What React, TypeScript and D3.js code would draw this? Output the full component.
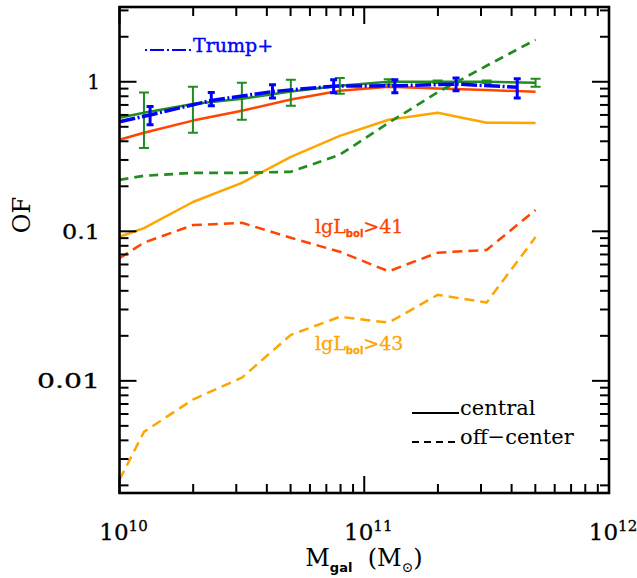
import React from "react";
import * as d3 from "d3";

// ---- data (log10 of galaxy mass, occupation fraction) ----
const massLog = [10.0, 10.1, 10.3, 10.5, 10.7, 10.9, 11.1, 11.3, 11.5, 11.7];
const greenCentral = [0.575, 0.62, 0.71, 0.77, 0.86, 0.94, 1.0, 1.0, 1.0, 0.985];
const greenLo = [NaN, 0.36, 0.456, 0.557, 0.69, 0.831, 0.96, 0.98, 0.98, 0.926];
const greenHi = [NaN, 0.848, 0.926, 0.985, 1.03, 1.06, 1.04, 1.02, 1.02, 1.047];
const greenOff = [0.221, 0.235, 0.246, 0.246, 0.25, 0.325, 0.532, 0.85, 1.28, 1.91];
const redCentral = [0.41, 0.456, 0.55, 0.64, 0.76, 0.87, 0.925, 0.9, 0.88, 0.857];
const redOff = [0.066, 0.084, 0.11, 0.114, 0.0905, 0.073, 0.054, 0.072, 0.075, 0.139];
const orangeCentral = [0.092, 0.105, 0.157, 0.211, 0.315, 0.435, 0.557, 0.62, 0.532, 0.53];
const orangeOff = [0.00218, 0.00456, 0.0075, 0.0105, 0.0203, 0.0268, 0.0245, 0.0376, 0.0334, 0.0915];

const trumpLog = [10.0, 10.125, 10.375, 10.625, 10.875, 11.125, 11.375, 11.625];
const trump = [0.54, 0.6, 0.75, 0.86, 0.935, 0.94, 0.965, 0.92];
const trumpLo = [NaN, 0.516, 0.691, 0.778, 0.844, 0.844, 0.87, 0.78];
const trumpHi = [NaN, 0.684, 0.848, 0.955, 1.03, 1.03, 1.06, 1.047];

const xMajor = [1e10, 1e11, 1e12];
const xExpLabels = ["10", "11", "12"];
const yMajor = [0.01, 0.1, 1];
const yLabels = ["0.01", "0.1", "1"];

const W = 637, H = 578;
const L = 119.5, R = 609, T = 7, B = 493;

const GREEN = "#228B22", RED = "#FF4500", ORANGE = "#FFA500", BLUE = "#0000FF";
const SERIF = "'DejaVu Serif', serif";
const SANS = "'DejaVu Sans', sans-serif";

export default function App() {
  const x = d3.scaleLog().domain([1e10, 1e12]).range([L, R]);
  const y = d3.scaleLog().domain([Math.pow(10, -2.75), Math.pow(10, 0.5)]).range([B, T]);

  const line = d3.line<[number, number]>().x(d => x(Math.pow(10, d[0]))).y(d => y(d[1]));
  const mk = (ms: number[], vs: number[]) => line(ms.map((m, i) => [m, vs[i]] as [number, number])) || "";

  const xMinor: number[] = [];
  [1e10, 1e11].forEach(d => { for (let k = 2; k <= 9; k++) xMinor.push(k * d); });
  const yMinor: number[] = [];
  [1e-3, 1e-2, 1e-1, 1].forEach(d => {
    for (let k = 2; k <= 9; k++) {
      const v = k * d;
      const [lo, hi] = y.domain();
      if (v > lo && v < hi) yMinor.push(v);
    }
  });

  const tickW = 2;
  const major = 17, minor = 9;

  const errBars = (ms: number[], lo: number[], hi: number[], color: string, cap: number, sw: number) =>
    ms.map((m, i) => {
      if (isNaN(lo[i])) return null;
      const cx = x(Math.pow(10, m));
      const y1 = y(lo[i]), y2 = y(hi[i]);
      return (
        <g key={"e" + color + i} stroke={color} strokeWidth={sw}>
          <line x1={cx} x2={cx} y1={y1} y2={y2} />
          <line x1={cx - cap} x2={cx + cap} y1={y1} y2={y1} />
          <line x1={cx - cap} x2={cx + cap} y1={y2} y2={y2} />
        </g>
      );
    });

  return (
    <svg width={W} height={H} style={{ position: "absolute", left: 0, top: 0, background: "#fff" }}>
      <defs>
        <clipPath id="plot">
          <rect x={L} y={T} width={R - L} height={B - T} />
        </clipPath>
      </defs>
      <rect x={0} y={0} width={W} height={H} fill="#fff" />

      <g clipPath="url(#plot)" fill="none" strokeLinejoin="round">
        <path d={mk(massLog, orangeOff)} stroke={ORANGE} strokeWidth={2.5} strokeDasharray="10,6" />
        <path d={mk(massLog, redOff)} stroke={RED} strokeWidth={2.5} strokeDasharray="10,6" />
        <path d={mk(massLog, orangeCentral)} stroke={ORANGE} strokeWidth={2.5} />
        <path d={mk(massLog, redCentral)} stroke={RED} strokeWidth={2.5} />
        <path d={mk(massLog, greenOff)} stroke={GREEN} strokeWidth={2.7} strokeDasharray="9,6" />
        <path d={mk(massLog, greenCentral)} stroke={GREEN} strokeWidth={2.5} />
        {errBars(massLog, greenLo, greenHi, GREEN, 5, 2)}
        <path d={mk(trumpLog, trump)} stroke={BLUE} strokeWidth={3.5} strokeDasharray="16,2.5,2,2.5" />
        {errBars(trumpLog, trumpLo, trumpHi, BLUE, 3.5, 3)}
      </g>

      {/* frame ticks */}
      <g stroke="#000" strokeWidth={tickW}>
        {xMajor.map((v, i) => (
          <g key={"xM" + i}>
            <line x1={x(v)} x2={x(v)} y1={B} y2={B - major} />
            <line x1={x(v)} x2={x(v)} y1={T} y2={T + major} />
          </g>
        ))}
        {xMinor.map((v, i) => (
          <g key={"xm" + i}>
            <line x1={x(v)} x2={x(v)} y1={B} y2={B - minor} />
            <line x1={x(v)} x2={x(v)} y1={T} y2={T + minor} />
          </g>
        ))}
        {yMajor.map((v, i) => (
          <g key={"yM" + i}>
            <line x1={L} x2={L + major} y1={y(v)} y2={y(v)} />
            <line x1={R} x2={R - major} y1={y(v)} y2={y(v)} />
          </g>
        ))}
        {yMinor.map((v, i) => (
          <g key={"ym" + i}>
            <line x1={L} x2={L + minor} y1={y(v)} y2={y(v)} />
            <line x1={R} x2={R - minor} y1={y(v)} y2={y(v)} />
          </g>
        ))}
      </g>
      <rect x={L} y={T} width={R - L} height={B - T} fill="none" stroke="#000" strokeWidth={2.6} />

      {/* y tick labels */}
      <g fontFamily={SERIF} fontSize={20} fill="#000" stroke="#000" strokeWidth={0.3} textAnchor="end">
        {yMajor.map((v, i) => (
          <text key={"yl" + i} x={100} y={y(v) + 7.5}
            textLength={yLabels[i].length > 1 ? (yLabels[i].length === 3 ? 38 : 63) : undefined}
            lengthAdjust="spacingAndGlyphs">{yLabels[i]}</text>
        ))}
      </g>

      {/* x tick labels */}
      <g fontFamily={SERIF} fill="#000" stroke="#000" strokeWidth={0.3} textAnchor="middle">
        {xMajor.map((v, i) => (
          <text key={"xl" + i} x={x(v) + 4} y={540} fontSize={23}>
            10<tspan fontSize={15} dy={-9}>{xExpLabels[i]}</tspan>
          </text>
        ))}
      </g>

      {/* axis titles */}
      <text x={364} y={566} fontFamily={SERIF} fontSize={24} textAnchor="middle" fill="#000">
        M<tspan fontFamily={SANS} fontWeight="bold" fontSize={13} dy={6}>gal</tspan>
        <tspan dy={-6}>{"\u00A0\u00A0(M"}</tspan>
        <tspan fontSize={14} dy={6}>⊙</tspan>
        <tspan dy={-6}>)</tspan>
      </text>
      <text transform="translate(30,215) rotate(-90)" fontFamily={SERIF} fontSize={24} textAnchor="middle" fill="#000">OF</text>

      {/* Trump+ legend */}
      <line x1={145} x2={192} y1={50} y2={50} stroke={BLUE} strokeWidth={2} strokeDasharray="2,3,14,3" />
      <text x={193} y={51.7} fontFamily={SERIF} fontSize={19} fill={BLUE} stroke={BLUE} strokeWidth={0.4}>Trump+</text>

      {/* luminosity labels */}
      <text x={315} y={233} fontFamily={SERIF} fontSize={19} fill={RED} stroke={RED} strokeWidth={0.3}>
        lgL<tspan fontFamily={SANS} fontWeight="bold" fontSize={10} dy={4}>bol</tspan>
        <tspan dy={-4}>&gt;41</tspan>
      </text>
      <text x={315} y={350} fontFamily={SERIF} fontSize={19} fill={ORANGE} stroke={ORANGE} strokeWidth={0.3}>
        lgL<tspan fontFamily={SANS} fontWeight="bold" fontSize={10} dy={4}>bol</tspan>
        <tspan dy={-4}>&gt;43</tspan>
      </text>

      {/* central / off-center legend */}
      <line x1={412} x2={459} y1={413} y2={413} stroke="#000" strokeWidth={2} />
      <text x={460} y={415} fontFamily={SERIF} fontSize={21} fill="#000">central</text>
      <line x1={412} x2={459} y1={442} y2={442} stroke="#000" strokeWidth={2} strokeDasharray="7,5" />
      <text x={460} y={444} fontFamily={SERIF} fontSize={21} fill="#000">off−center</text>
    </svg>
  );
}
